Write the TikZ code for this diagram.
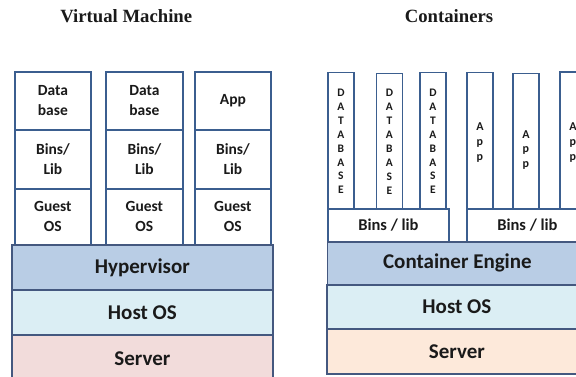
\documentclass[tikz,border=0pt]{standalone}
\usepackage{fontspec}
\setmainfont{Carlito}
\newfontfamily\titlefont{Liberation Serif}
\definecolor{edge}{HTML}{3B5E8F}
\definecolor{layeredge}{HTML}{44587F}
\definecolor{ink}{HTML}{1A1A1A}
\definecolor{hyperfill}{HTML}{B9CDE5}
\definecolor{hostfill}{HTML}{DBEEF4}
\definecolor{vmserverfill}{HTML}{F2DCDB}
\definecolor{ctserverfill}{HTML}{FDE9DA}
\begin{document}
\begin{tikzpicture}[x=1pt,y=-1pt,
  every node/.style={text=ink},
  title/.style={font=\titlefont\bfseries\fontsize{18.7}{20}\selectfont, anchor=base},
  cell/.style={draw=edge, line width=1.8pt, fill=white, inner sep=0pt,
    anchor=north west, align=center,
    font=\bfseries\fontsize{15.5}{20}\selectfont},
  strip/.style={draw=edge, line width=1.8pt, fill=white, inner sep=0pt,
    anchor=north west, minimum width=26pt},
  letters/.style={align=center, inner sep=0pt,
    font=\bfseries\fontsize{11.5}{13.9}\selectfont},
  appletters/.style={align=center, inner sep=0pt,
    font=\bfseries\fontsize{12}{14.8}\selectfont},
  libbox/.style={draw=edge, line width=1.8pt, fill=white, inner sep=0pt,
    anchor=north west, minimum width=121pt, minimum height=33pt,
    font=\bfseries\fontsize{16.5}{20}\selectfont},
  layer/.style={draw=layeredge, line width=1.8pt, inner sep=0pt,
    anchor=north west, font=\bfseries\fontsize{21}{24}\selectfont}]

\useasboundingbox (0,0) rectangle (576,376);
\clip (0,0) rectangle (576,376);

% ---------- Virtual machines ----------
\node[title] (vmtitle) at (126.3,22.7) {Virtual Machine};

\node[cell, minimum width=76pt, minimum height=58pt] (db1) at (14,71) {Data\\base};
\node[cell, minimum width=76pt, minimum height=59pt] (bl1) at (14,129) {Bins/\\Lib};
\node[cell, minimum width=76pt, minimum height=56pt] (os1) at (14,188) {Guest\\OS};

\node[cell, minimum width=77pt, minimum height=58pt] (db2) at (105,71) {Data\\base};
\node[cell, minimum width=77pt, minimum height=59pt] (bl2) at (105,129) {Bins/\\Lib};
\node[cell, minimum width=77pt, minimum height=56pt] (os2) at (105,188) {Guest\\OS};

\node[cell, minimum width=76pt, minimum height=58pt] (app3) at (194,71) {App};
\node[cell, minimum width=76pt, minimum height=59pt] (bl3) at (194,129) {Bins/\\Lib};
\node[cell, minimum width=76pt, minimum height=56pt] (os3) at (194,188) {Guest\\OS};

\node[layer, fill=hyperfill, minimum width=261pt, minimum height=45pt] (hyper) at (11,244) {Hypervisor};
\node[layer, fill=hostfill, minimum width=261pt, minimum height=45pt] (vmhost) at (11,289) {Host OS};
\node[layer, fill=vmserverfill, minimum width=261pt, minimum height=48pt] (vmserver) at (11,334) {Server};

% ---------- Containers ----------
\node[title] (cttitle) at (449,22.7) {Containers};

\node[strip, minimum height=136.5pt] (cdb1) at (327,71.5) {};
\node[strip, minimum height=135.5pt] (cdb2) at (375.5,72.5) {};
\node[strip, minimum height=136.5pt] (cdb3) at (419,71.5) {};
\node[letters] (cdb1t) at ([yshift=-0.8pt]cdb1.center) {D\\A\\T\\A\\B\\A\\S\\E};
\node[letters] (cdb2t) at ([yshift=-0.5pt]cdb2.center) {D\\A\\T\\A\\B\\A\\S\\E};
\node[letters] (cdb3t) at ([yshift=-0.8pt]cdb3.center) {D\\A\\T\\A\\B\\A\\S\\E};

\node[strip, minimum height=137pt] (capp1) at (466,71.5) {};
\node[strip, minimum height=136pt] (capp2) at (512,72.5) {};
\node[strip, minimum height=138pt] (capp3) at (559,71) {};
\node[appletters] (capp1t) at ([yshift=-1.5pt]capp1.center) {A\\p\\p};
\node[appletters] (capp2t) at ([yshift=-8.5pt]capp2.center) {A\\p\\p};
\node[appletters] (capp3t) at ([yshift=-1.5pt]capp3.center) {A\\p\\p};

\node[libbox] (lib1) at (327,208) {Bins / lib};
\node[libbox] (lib2) at (466,208) {Bins / lib};

\node[layer, fill=hyperfill, minimum width=260pt, minimum height=43pt] (engine) at (326.5,241) {Container Engine};
\node[layer, fill=hostfill, minimum width=260pt, minimum height=44pt] (cthost) at (326,284) {Host OS};
\node[layer, fill=ctserverfill, minimum width=260pt, minimum height=45pt] (ctserver) at (326,328) {Server};

\end{tikzpicture}
\end{document}
